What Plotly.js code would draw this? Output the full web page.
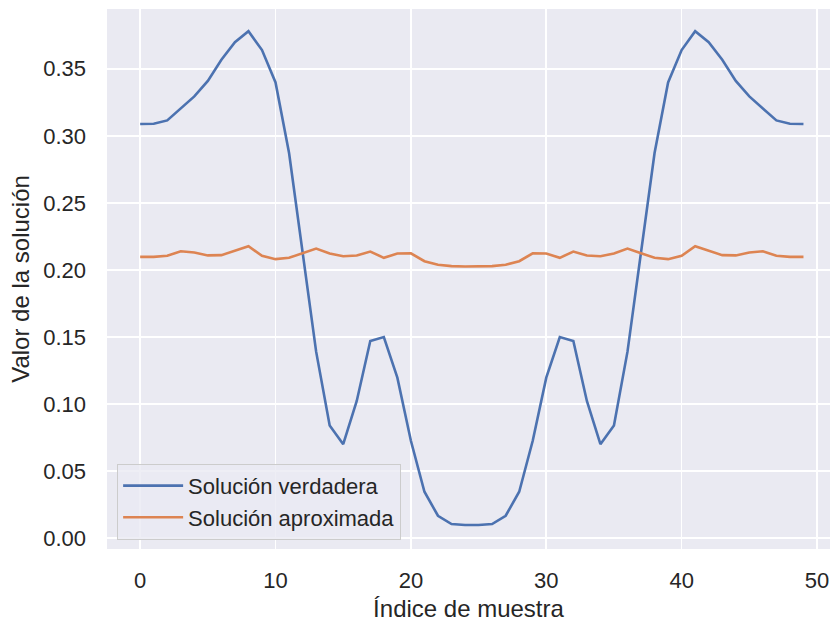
<!DOCTYPE html>
<html>
<head>
<meta charset="utf-8">
<script src="https://cdn.plot.ly/plotly-3.0.1.min.js"></script>
<style>
  html, body { margin: 0; padding: 0; background: #ffffff; }
  #chart { width: 830px; height: 622px; }
</style>
</head>
<body>
<div id="chart"></div>
<script>
// Sample index along the domain
const indices = Array.from({length: 50}, (_, i) => i);

// Exact (reference) solution
const trueSolution = [
  0.3088, 0.3090, 0.3115, 0.3204, 0.3294, 0.3410, 0.3567, 0.3698, 0.3780, 0.3640,
  0.3398, 0.2872, 0.2130, 0.1390, 0.0840, 0.0700, 0.1022, 0.1469, 0.1499, 0.1196,
  0.0725, 0.0345, 0.0166, 0.0104, 0.0097, 0.0097, 0.0104, 0.0166, 0.0345, 0.0725,
  0.1196, 0.1499, 0.1469, 0.1022, 0.0700, 0.0840, 0.1390, 0.2130, 0.2872, 0.3398,
  0.3640, 0.3780, 0.3698, 0.3567, 0.3410, 0.3294, 0.3204, 0.3115, 0.3090, 0.3088
];

// Approximate solution
const approxSolution = [
  0.2097, 0.2097, 0.2105, 0.2139, 0.2130, 0.2108, 0.2110, 0.2144, 0.2177, 0.2105,
  0.2080, 0.2090, 0.2124, 0.2159, 0.2122, 0.2102, 0.2107, 0.2137, 0.2090, 0.2122,
  0.2124, 0.2065, 0.2038, 0.2028, 0.2025, 0.2025, 0.2028, 0.2038, 0.2065, 0.2124,
  0.2122, 0.2090, 0.2137, 0.2107, 0.2102, 0.2122, 0.2159, 0.2124, 0.2090, 0.2080,
  0.2105, 0.2177, 0.2144, 0.2110, 0.2108, 0.2130, 0.2139, 0.2105, 0.2097, 0.2097
];

const seriesNames = ['Solución verdadera', 'Solución aproximada'];
const xTicks = [0, 10, 20, 30, 40, 50];
const yTicks = [0, 0.05, 0.10, 0.15, 0.20, 0.25, 0.30, 0.35];

const FONT = 'Liberation Sans, Arial, Helvetica, sans-serif';
const TEXT = '#262626';

const traces = [
  {
    x: indices, y: trueSolution, name: seriesNames[0],
    type: 'scatter', mode: 'lines',
    line: {color: '#4C72B0', width: 2.6}
  },
  {
    x: indices, y: approxSolution, name: seriesNames[1],
    type: 'scatter', mode: 'lines',
    line: {color: '#DD8452', width: 2.6}
  }
];

const layout = {
  width: 830, height: 622,
  margin: {l: 107, r: 0, t: 9, b: 73, pad: 0},
  paper_bgcolor: '#ffffff',
  plot_bgcolor: '#EAEAF2',
  font: {family: FONT, size: 22, color: TEXT},
  showlegend: true,
  legend: {
    x: 0.014, y: 0.017, xanchor: 'left', yanchor: 'bottom',
    bgcolor: 'rgba(234,234,242,0.8)',
    bordercolor: '#CCCCCC', borderwidth: 1,
    font: {family: FONT, size: 22, color: TEXT},
    itemwidth: 60,
    tracegroupgap: 0
  },
  xaxis: {
    range: [-2.45, 50.96],
    tickvals: xTicks,
    ticktext: xTicks.map(String),
    showgrid: true, gridcolor: '#ffffff', gridwidth: 1.6,
    zeroline: false, showline: false, ticks: '',
    ticklabelstandoff: 16,
    tickfont: {family: FONT, size: 22, color: TEXT},
    title: {text: 'Índice de muestra', font: {family: FONT, size: 24, color: TEXT}, standoff: 8}
  },
  yaxis: {
    range: [-0.0082, 0.3946],
    tickvals: yTicks,
    ticktext: yTicks.map(v => v.toFixed(2)),
    showgrid: true, gridcolor: '#ffffff', gridwidth: 1.6,
    zeroline: false, showline: false, ticks: '',
    ticklabelstandoff: 20,
    tickfont: {family: FONT, size: 22, color: TEXT},
    title: {text: 'Valor de la solución', font: {family: FONT, size: 24, color: TEXT}, standoff: 6}
  }
};

Plotly.newPlot('chart', traces, layout, {displayModeBar: false, staticPlot: true});
</script>
</body>
</html>
